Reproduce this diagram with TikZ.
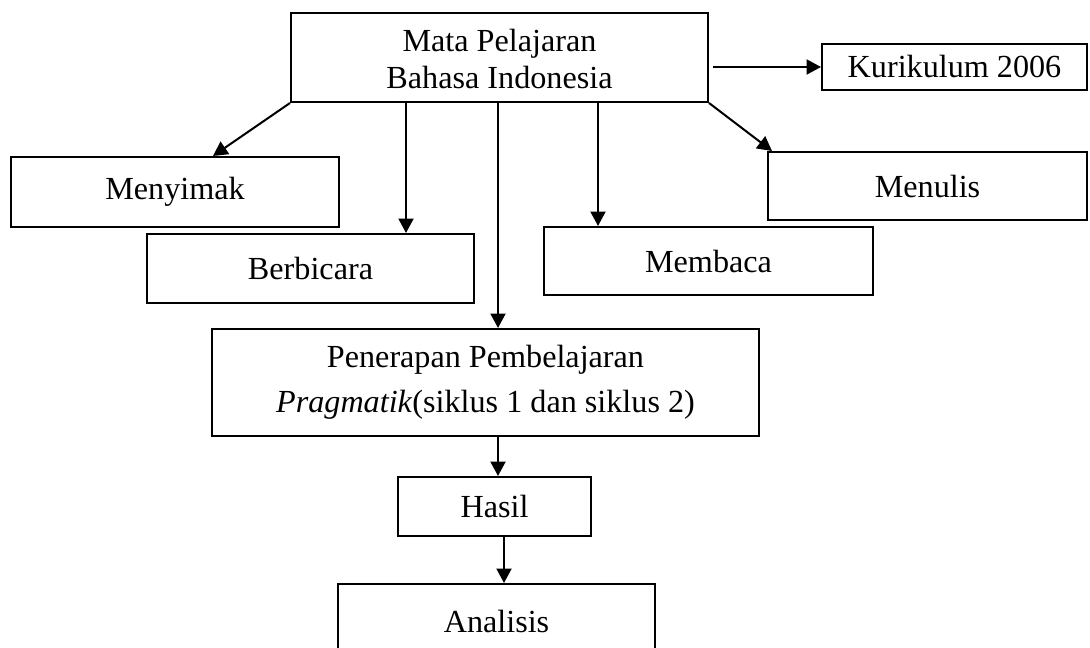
\documentclass[tikz,border=0pt]{standalone}
\usepackage{fontspec}
\setmainfont{Liberation Serif}
\usetikzlibrary{arrows.meta}
\newcommand{\pxu}{0.373pt}
\begin{document}
\begin{tikzpicture}[x=0.373pt, y=-0.373pt,
    box/.style 2 args={draw, line width=0.75pt, align=center, inner sep=0pt,
      font=\fontsize{12}{13.8}\selectfont,
      minimum width=#1*\pxu, minimum height=#2*\pxu},
    arr/.style={-{Triangle[length=5.4pt,width=5.6pt]}, line width=0.75pt}]
      \clip (0,0) rectangle (1090,648);

      \node[box={417}{89}] (mp) at (499.5,57.5) {\\[-4pt]Mata Pelajaran\\Bahasa Indonesia};
      \node[box={265}{46}] (kur) at (954.5,67) {Kurikulum 2006};
      \node[box={328}{70}] (meny) at (175,192) {Menyimak};
      \node[box={327}{69}] (berb) at (310.5,268.5) {Berbicara};
      \node[box={329}{68}] (memb) at (708.5,261) {Membaca};
      \node[box={319}{68}] (menu) at (927.5,186) {Menulis};
      \node[box={547}{107}, font=\fontsize{12}{16.8}\selectfont] (pen) at (485.5,382.5)
        {Penerapan Pembelajaran\\\textit{Pragmatik}(siklus 1 dan siklus 2)};
      \node[box={193}{59}] (has) at (494.5,506.5) {Hasil};
      \node[box={317}{74}] (ana) at (496.5,621) {Analisis};

      \draw[arr] (713,0 |- kur.west) -- (kur.west);
      \draw[arr] (mp.south west) -- (213,0 |- meny.north);
      \draw[arr] (mp.south east) -- (772,0 |- menu.north);

      \draw[arr] (406,0 |- mp.south) -- (406,0 |- berb.north);
      \draw[arr] (498,0 |- mp.south) -- (498,0 |- pen.north);
      \draw[arr] (598,0 |- mp.south) -- (598,0 |- memb.north);

      \draw[arr] (498,0 |- pen.south) -- (498,0 |- has.north);
      \draw[arr] (504,0 |- has.south) -- (504,0 |- ana.north);
\end{tikzpicture}
\end{document}
